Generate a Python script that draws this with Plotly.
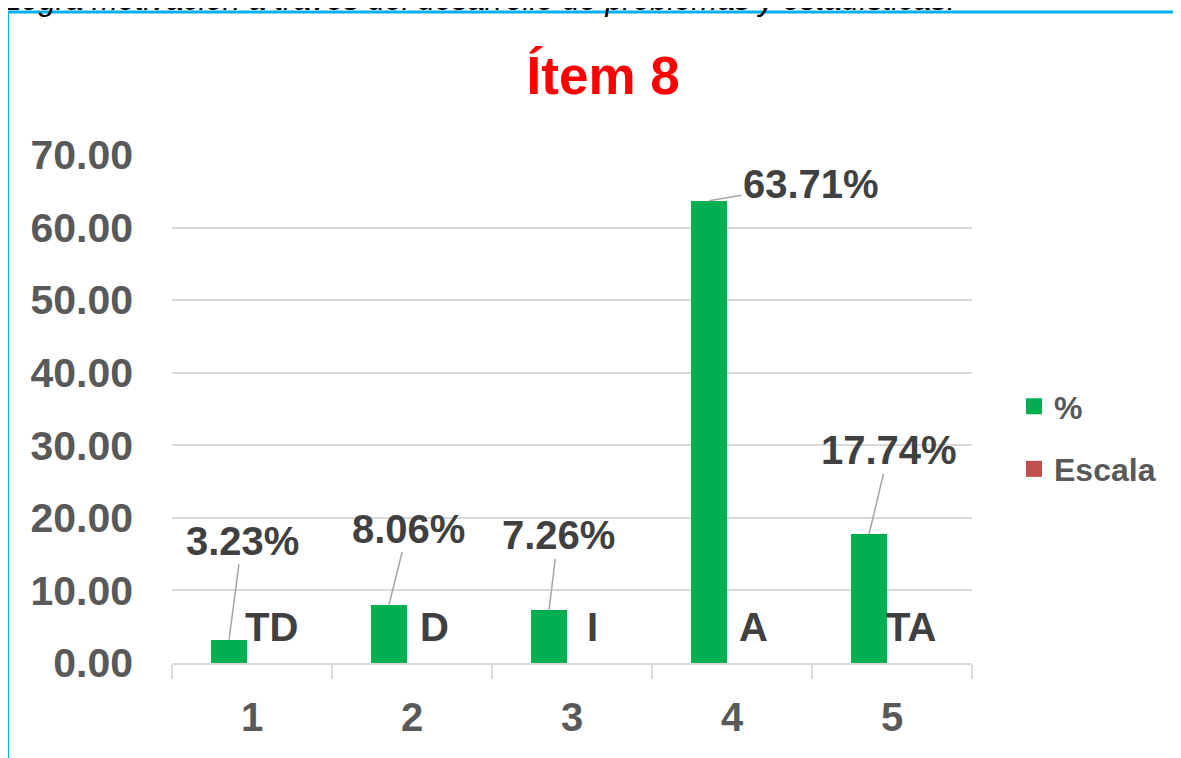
import plotly.graph_objects as go

# ---- data ----
CATEGORIES = [1, 2, 3, 4, 5]
PERCENT = [3.23, 8.06, 7.26, 63.71, 17.74]
ESCALA_LABELS = ["TD", "D", "I", "A", "TA"]
Y_TICKS = [0, 10, 20, 30, 40, 50, 60, 70]
TITLE = "Ítem 8"
CAPTION = "Logra motivación a través del desarrollo de problemas y estadísticas."

# ---- style ----
FONT = "Liberation Sans"
GREEN = "#00b050"
RED = "#c0504d"
GRID = "#d9d9d9"
LABEL_DARK = "#404040"
TICK_GREY = "#595959"
BAR_OFFSET = -0.256
BAR_WIDTH = 0.225

# pixel offsets of value labels relative to bar tops (ax, ay)
VALUE_LABEL_OFFSETS = [(13, -99), (19, -76), (9, -75), (102, -17), (20, -84)]
# pixel x-shift of scale labels relative to category centre (left anchored)
ESCALA_XSHIFT = [-9, 6, 13, 5, -8]

fig = go.Figure()

fig.add_trace(go.Bar(
    x=CATEGORIES, y=PERCENT, name="%",
    marker=dict(color=GREEN, line=dict(width=0)),
    offset=BAR_OFFSET, width=BAR_WIDTH, showlegend=False,
))

# legend proxies (larger square markers)
fig.add_trace(go.Scatter(x=[None], y=[None], mode="markers", name="%",
                         legendgroup="a",
                         marker=dict(symbol="square", size=20, color=GREEN)))
fig.add_trace(go.Scatter(x=[None], y=[None], mode="markers", name="Escala",
                         legendgroup="b",
                         marker=dict(symbol="square", size=20, color=RED)))

annotations = []
for c, v, (ax, ay) in zip(CATEGORIES, PERCENT, VALUE_LABEL_OFFSETS):
    annotations.append(dict(
        x=c + BAR_OFFSET + BAR_WIDTH / 2, y=v, xref="x", yref="y",
        text=f"{v:.2f}%", showarrow=True, arrowhead=0, arrowwidth=1.5,
        arrowcolor="#a6a6a6", ax=ax, ay=ay, standoff=0,
        font=dict(family=FONT, size=40, color=LABEL_DARK, weight="bold"),
    ))
for c, lab, xs in zip(CATEGORIES, ESCALA_LABELS, ESCALA_XSHIFT):
    annotations.append(dict(
        x=c, y=0, xref="x", yref="y", text=lab, showarrow=False,
        xanchor="left", yanchor="middle", xshift=xs, yshift=36,
        font=dict(family=FONT, size=40, color=LABEL_DARK, weight="bold"),
    ))
annotations.append(dict(
    x=-0.212, y=(663 - 19) / 508, xref="paper", yref="paper", text=CAPTION,
    showarrow=False, xanchor="left", yanchor="bottom",
    font=dict(family=FONT, size=31, color="black", style="italic"),
))

fig.update_layout(
    width=1181, height=758,
    margin=dict(l=164, r=217, t=147, b=103, autoexpand=False),
    paper_bgcolor="white", plot_bgcolor="white",
    title=dict(text=TITLE, x=0.539, xref="paper", xanchor="center",
               y=1 - 67 / 758, yref="container", yanchor="middle",
               font=dict(family=FONT, size=53, color="#ff0000", weight="bold")),
    xaxis=dict(
        range=[0.5, 5.5], tickvals=CATEGORIES, ticktext=[str(c) for c in CATEGORIES],
        showgrid=False, zeroline=False, showline=True, linecolor=GRID, linewidth=2,
        ticks="", ticklabelstandoff=18, automargin=False,
        minor=dict(tick0=0.5, dtick=1, ticks="outside", ticklen=14,
                   tickcolor=GRID, tickwidth=2, showgrid=False),
        tickfont=dict(family=FONT, size=40, color=TICK_GREY, weight="bold"),
        fixedrange=True,
    ),
    yaxis=dict(
        range=[0, 70], tickvals=Y_TICKS, tickformat=".2f",
        showgrid=True, gridcolor=GRID, gridwidth=2, zeroline=False,
        showline=False, ticks="", ticklabelstandoff=38, automargin=False,
        tickfont=dict(family=FONT, size=41, color=TICK_GREY, weight="bold"),
        fixedrange=True,
    ),
    legend=dict(x=1.0525, xanchor="left", y=0.443, yanchor="middle",
                font=dict(family=FONT, size=32, color=TICK_GREY, weight="bold"),
                tracegroupgap=18, traceorder="grouped", itemsizing="trace",
                bgcolor="rgba(0,0,0,0)"),
    annotations=annotations,
    shapes=[dict(type="rect", xref="paper", yref="paper",
                 x0=(7.5 - 172) / 800, x1=(1195 - 172) / 800,
                 y0=(663 - 780) / 508, y1=(663 - 12) / 508,
                 line=dict(color="#00b0f0", width=3), fillcolor="rgba(0,0,0,0)",
                 layer="above")],
    bargap=0,
)

fig.write_html("out.html")
